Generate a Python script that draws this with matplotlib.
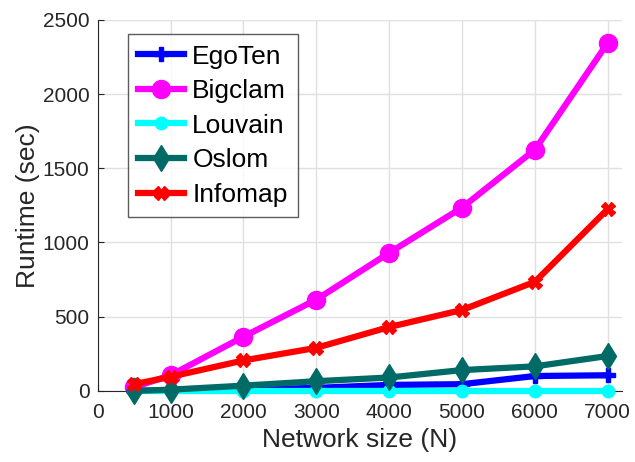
import matplotlib.pyplot as plt
import numpy as np

plt.rcParams['font.family'] = ['Liberation Sans', 'DejaVu Sans']

network_size = [500, 1000, 2000, 3000, 4000, 5000, 6000, 7000]
egoten = [0, 3, 8, 20, 40, 45, 100, 105]
bigclam = [25, 105, 365, 615, 930, 1235, 1625, 2345]
louvain = [0, 0, 0, 0, 0, 0, 0, 0]
oslom = [0, 8, 35, 65, 90, 140, 165, 235]
infomap = [45, 95, 205, 290, 430, 545, 735, 1225]

series = [
    ('EgoTen', egoten, '#0000ff', 'P', 10),
    ('Bigclam', bigclam, '#ff00ff', 'o', 13),
    ('Louvain', louvain, '#00ffff', 'o', 9),
    ('Oslom', oslom, '#006b66', 'd', 13),
    ('Infomap', infomap, '#ff0000', 'X', 10),
]

fig = plt.figure(figsize=(6.35, 4.62), dpi=100)
ax = fig.add_axes([0.154, 0.154, 0.826, 0.803])

for name, vals, color, marker, ms in series:
    ax.plot(network_size, vals, color=color, marker=marker, markersize=ms,
            linewidth=4.5, label=name, clip_on=False, zorder=3)

ax.set_xlim(0, 7200)
ax.set_ylim(0, 2500)
ax.set_xticks(np.arange(0, 7001, 1000))
ax.set_yticks(np.arange(0, 2501, 500))
ax.grid(color='#e0e0e0', linewidth=1)
ax.set_axisbelow(True)
ax.spines['top'].set_visible(False)
ax.spines['right'].set_visible(False)
for s in ('left', 'bottom'):
    ax.spines[s].set_color('#262626')
ax.tick_params(labelsize=15, length=4, direction='in',
               colors='#262626', labelcolor='#262626')
ax.tick_params(axis='x', pad=9)
ax.tick_params(axis='y', pad=6)
ax.set_xlabel('Network size (N)', fontsize=19, color='#262626', labelpad=4)
ax.set_ylabel('Runtime (sec)', fontsize=19, color='#262626', labelpad=2)

leg = ax.legend(loc='upper left', bbox_to_anchor=(0.057, 0.962), fontsize=19,
                frameon=True, fancybox=False, edgecolor='#333333',
                handlelength=1.75, handletextpad=0.3, labelspacing=0.4,
                borderpad=0.4, borderaxespad=0)
leg.get_frame().set_linewidth(1)

fig.savefig('out.png', dpi=100)
